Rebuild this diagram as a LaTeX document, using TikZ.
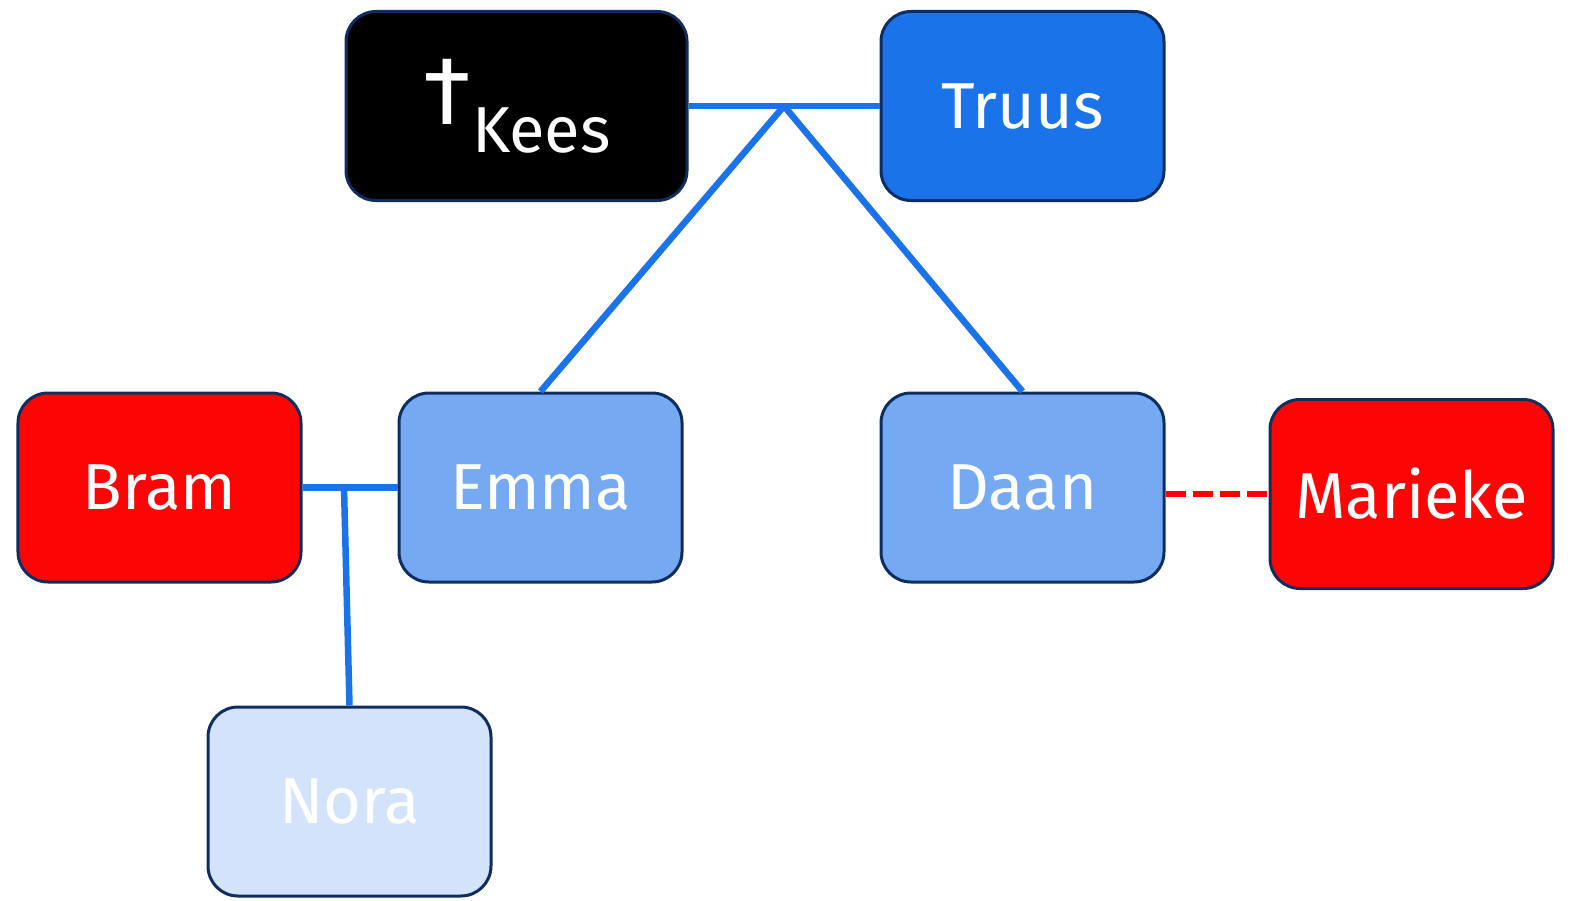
\documentclass[tikz,border=0pt]{standalone}
\usepackage{fontspec}
\setmainfont{Fira Sans}
\usetikzlibrary{calc}
\definecolor{navy}{HTML}{0F2D5F}
\definecolor{lineblue}{HTML}{1A73E8}
\definecolor{truusblue}{HTML}{1A73E8}
\definecolor{midblue}{HTML}{75AAF3}
\definecolor{paleblue}{HTML}{D2E3FB}
\definecolor{redfill}{HTML}{FE0505}
\definecolor{dashred}{HTML}{FF0000}
\begin{document}
\begin{tikzpicture}[x=1bp,y=-1bp,
  person/.style={draw=navy, line width=3bp, rounded corners=30bp,
    minimum width=283bp, minimum height=189bp, text=white, inner sep=0pt,
    font=\fontsize{65bp}{70bp}\selectfont},
  link/.style={draw=lineblue, line width=6.5bp},
  partner/.style={draw=dashred, line width=6.5bp, dash pattern=on 20bp off 7bp}]
\useasboundingbox (0,0) rectangle (1575,900);
\node[person, fill=black, minimum width=341bp] (kees) at (516.5,106) {\raisebox{-6bp}{\raisebox{28bp}{\scalebox{1.5}{†}}Kees}};
\node[person, fill=truusblue] (truus) at (1022.5,106) {Truus};
\node[person, fill=redfill] (bram) at (159.5,487.5) {Bram};
\node[person, fill=midblue] (emma) at (540.5,487.5) {Emma};
\node[person, fill=midblue] (daan) at (1022.5,487.5) {Daan};
\node[person, fill=redfill] (marieke) at (1411.5,494) {Marieke};
\node[person, fill=paleblue] (nora) at (349.5,801.5) {Nora};
\draw[link] (kees.east) -- (truus.west);
\coordinate (j) at ($(kees.east)!0.5!(truus.west)$);
\draw[link] (j) -- (emma.north);
\draw[link] (j) -- (daan.north);
\draw[link] (bram.east) -- (emma.west);
\coordinate (k) at (344,487.5);
\draw[link] (k) -- (nora.north);
\draw[partner] (daan.east |- marieke.west) -- (marieke.west);
\end{tikzpicture}
\end{document}
